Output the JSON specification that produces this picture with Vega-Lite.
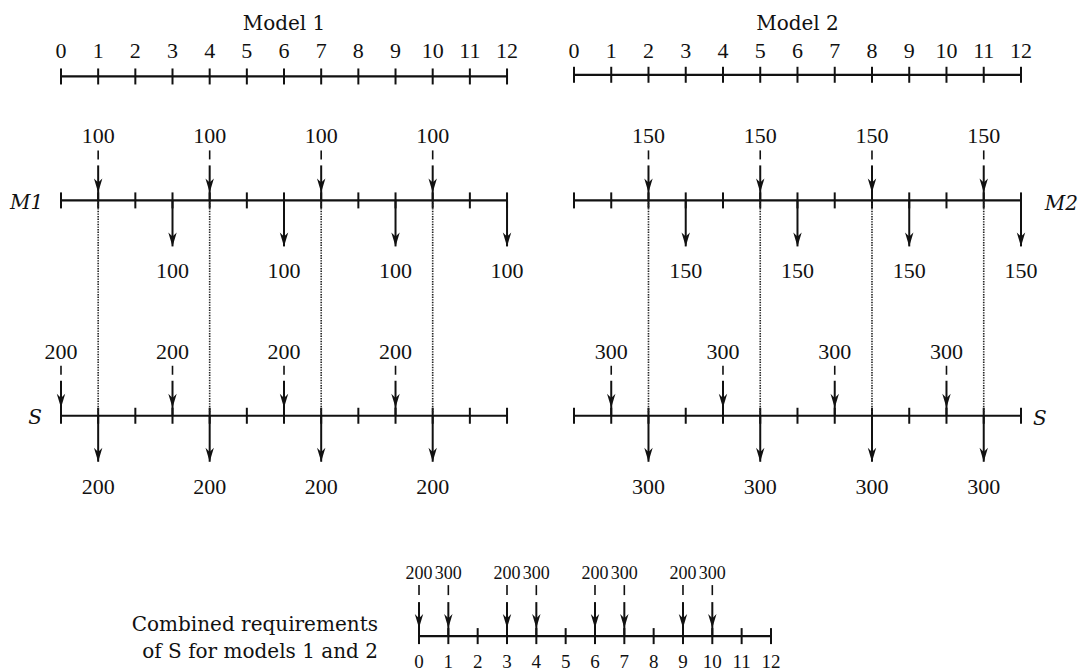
{
  "$schema": "https://vega.github.io/schema/vega-lite/v6.json",
  "width": 1089,
  "height": 672,
  "autosize": {"type": "fit", "contains": "padding"},
  "padding": 0,
  "background": "white",
  "config": {"view": {"stroke": null}},
  "datasets": {
    "lines": [
      {"line": "A1", "panel": "Model 1", "level": 7.67, "start": 0, "end": 12, "ticks": [0,1,2,3,4,5,6,7,8,9,10,11,12]},
      {"line": "M1", "panel": "Model 1", "level": 20.1, "start": 0, "end": 12, "ticks": [0,1,2,3,4,5,6,7,8,9,10,11,12]},
      {"line": "S1", "panel": "Model 1", "level": 41.7, "start": 0, "end": 12, "ticks": [0,1,2,3,4,5,6,7,8,9,10,11,12]},
      {"line": "A2", "panel": "Model 2", "level": 7.5, "start": 0, "end": 12, "ticks": [0,1,2,3,4,5,6,7,8,9,10,11,12]},
      {"line": "M2", "panel": "Model 2", "level": 20.1, "start": 0, "end": 12, "ticks": [0,1,2,3,4,5,6,7,8,9,10,11,12]},
      {"line": "S2", "panel": "Model 2", "level": 41.7, "start": 0, "end": 12, "ticks": [0,1,2,3,4,5,6,7,8,9,10,11,12]},
      {"line": "C", "panel": "Combined", "level": 63.8, "start": 0, "end": 12, "ticks": [0,1,2,3,4,5,6,7,8,9,10,11,12]}
    ],
    "arrows": [
      {"panel": "Model 1", "line": "M1", "dir": "in", "period": 1, "amount": 100},
      {"panel": "Model 1", "line": "M1", "dir": "in", "period": 4, "amount": 100},
      {"panel": "Model 1", "line": "M1", "dir": "in", "period": 7, "amount": 100},
      {"panel": "Model 1", "line": "M1", "dir": "in", "period": 10, "amount": 100},
      {"panel": "Model 1", "line": "M1", "dir": "out", "period": 3, "amount": 100},
      {"panel": "Model 1", "line": "M1", "dir": "out", "period": 6, "amount": 100},
      {"panel": "Model 1", "line": "M1", "dir": "out", "period": 9, "amount": 100},
      {"panel": "Model 1", "line": "M1", "dir": "out", "period": 12, "amount": 100},
      {"panel": "Model 1", "line": "S1", "dir": "in", "period": 0, "amount": 200},
      {"panel": "Model 1", "line": "S1", "dir": "in", "period": 3, "amount": 200},
      {"panel": "Model 1", "line": "S1", "dir": "in", "period": 6, "amount": 200},
      {"panel": "Model 1", "line": "S1", "dir": "in", "period": 9, "amount": 200},
      {"panel": "Model 1", "line": "S1", "dir": "out", "period": 1, "amount": 200},
      {"panel": "Model 1", "line": "S1", "dir": "out", "period": 4, "amount": 200},
      {"panel": "Model 1", "line": "S1", "dir": "out", "period": 7, "amount": 200},
      {"panel": "Model 1", "line": "S1", "dir": "out", "period": 10, "amount": 200},
      {"panel": "Model 2", "line": "M2", "dir": "in", "period": 2, "amount": 150},
      {"panel": "Model 2", "line": "M2", "dir": "in", "period": 5, "amount": 150},
      {"panel": "Model 2", "line": "M2", "dir": "in", "period": 8, "amount": 150},
      {"panel": "Model 2", "line": "M2", "dir": "in", "period": 11, "amount": 150},
      {"panel": "Model 2", "line": "M2", "dir": "out", "period": 3, "amount": 150},
      {"panel": "Model 2", "line": "M2", "dir": "out", "period": 6, "amount": 150},
      {"panel": "Model 2", "line": "M2", "dir": "out", "period": 9, "amount": 150},
      {"panel": "Model 2", "line": "M2", "dir": "out", "period": 12, "amount": 150},
      {"panel": "Model 2", "line": "S2", "dir": "in", "period": 1, "amount": 300},
      {"panel": "Model 2", "line": "S2", "dir": "in", "period": 4, "amount": 300},
      {"panel": "Model 2", "line": "S2", "dir": "in", "period": 7, "amount": 300},
      {"panel": "Model 2", "line": "S2", "dir": "in", "period": 10, "amount": 300},
      {"panel": "Model 2", "line": "S2", "dir": "out", "period": 2, "amount": 300},
      {"panel": "Model 2", "line": "S2", "dir": "out", "period": 5, "amount": 300},
      {"panel": "Model 2", "line": "S2", "dir": "out", "period": 8, "amount": 300},
      {"panel": "Model 2", "line": "S2", "dir": "out", "period": 11, "amount": 300},
      {"panel": "Combined", "line": "C", "dir": "in", "period": 0, "amount": 200},
      {"panel": "Combined", "line": "C", "dir": "in", "period": 1, "amount": 300},
      {"panel": "Combined", "line": "C", "dir": "in", "period": 3, "amount": 200},
      {"panel": "Combined", "line": "C", "dir": "in", "period": 4, "amount": 300},
      {"panel": "Combined", "line": "C", "dir": "in", "period": 6, "amount": 200},
      {"panel": "Combined", "line": "C", "dir": "in", "period": 7, "amount": 300},
      {"panel": "Combined", "line": "C", "dir": "in", "period": 9, "amount": 200},
      {"panel": "Combined", "line": "C", "dir": "in", "period": 10, "amount": 300}
    ],
    "links": [
      {"panel": "Model 1", "period": 1, "top": "M1", "bottom": "S1"},
      {"panel": "Model 1", "period": 4, "top": "M1", "bottom": "S1"},
      {"panel": "Model 1", "period": 7, "top": "M1", "bottom": "S1"},
      {"panel": "Model 1", "period": 10, "top": "M1", "bottom": "S1"},
      {"panel": "Model 2", "period": 2, "top": "M2", "bottom": "S2"},
      {"panel": "Model 2", "period": 5, "top": "M2", "bottom": "S2"},
      {"panel": "Model 2", "period": 8, "top": "M2", "bottom": "S2"},
      {"panel": "Model 2", "period": 11, "top": "M2", "bottom": "S2"}
    ],
    "labels": [
      {"panel": "Model 1", "kind": "title", "text": "Model 1", "period": 6, "level": 3.0},
      {"panel": "Model 2", "kind": "title", "text": "Model 2", "period": 6, "level": 3.0},
      {"panel": "Model 1", "kind": "left", "text": "M1", "period": -0.48, "level": 21.0},
      {"panel": "Model 1", "kind": "left", "text": "S", "period": -0.51, "level": 42.5},
      {"panel": "Model 2", "kind": "right", "text": "M2", "period": 12.64, "level": 21.1},
      {"panel": "Model 2", "kind": "right", "text": "S", "period": 12.32, "level": 42.6},
      {"panel": "Combined", "kind": "caption", "text": "Combined requirements", "period": -1.4, "level": 63.3},
      {"panel": "Combined", "kind": "caption", "text": "of S for models 1 and 2", "period": -1.4, "level": 66.0}
    ]
  },
  "resolve": {"scale": {"x": "independent"}},
  "layer": [
    {
      "layer": [
        {"data": {"name": "lines"}, "transform": [{"filter": "datum.panel === 'Model 1'"}],
         "mark": {"type": "rule", "strokeWidth": 2.2, "color": "#111"},
         "encoding": {"x": {"field": "start", "type": "quantitative", "scale": {"domain": [-1.641, 27.657], "nice": false, "zero": false}, "axis": null},
                      "x2": {"field": "end"},
                      "y": {"field": "level", "type": "quantitative", "scale": {"domain": [0, 67.2], "reverse": true, "nice": false, "zero": false}, "axis": null}}},
        {"data": {"name": "lines"}, "transform": [{"filter": "datum.panel === 'Model 1'"}, {"flatten": ["ticks"], "as": ["period"]}],
         "mark": {"type": "point", "shape": "M0,-1L0,1", "size": 256, "filled": false, "strokeWidth": 2, "color": "#111", "opacity": 1},
         "encoding": {"x": {"field": "period", "type": "quantitative", "scale": {"domain": [-1.641, 27.657], "nice": false, "zero": false}, "axis": null},
                      "y": {"field": "level", "type": "quantitative", "axis": null}}},
        {"data": {"name": "lines"}, "transform": [{"filter": "datum.line === 'A1'"}, {"flatten": ["ticks"], "as": ["period"]}],
         "mark": {"type": "text", "font": "Liberation Serif", "fontSize": 22, "color": "#111", "dy": -18, "baseline": "alphabetic", "align": "center"},
         "encoding": {"x": {"field": "period", "type": "quantitative", "axis": null},
                      "y": {"field": "level", "type": "quantitative", "axis": null},
                      "text": {"field": "period"}}},
        {"data": {"name": "links"}, "transform": [{"filter": "datum.panel === 'Model 1'"},
            {"lookup": "top", "from": {"data": {"name": "lines"}, "key": "line", "fields": ["level"]}, "as": ["topLevel"]},
            {"lookup": "bottom", "from": {"data": {"name": "lines"}, "key": "line", "fields": ["level"]}, "as": ["bottomLevel"]}],
         "mark": {"type": "rule", "strokeWidth": 1.6, "strokeDash": [1.4, 1.2], "color": "#222", "y2Offset": -2},
         "encoding": {"x": {"field": "period", "type": "quantitative", "axis": null},
                      "y": {"field": "topLevel", "type": "quantitative", "axis": null},
                      "y2": {"field": "bottomLevel"}}},
        {"data": {"name": "arrows"}, "transform": [{"filter": "datum.panel === 'Model 1' && datum.dir === 'in'"},
            {"lookup": "line", "from": {"data": {"name": "lines"}, "key": "line", "fields": ["level"]}}],
         "layer": [
           {"mark": {"type": "rule", "strokeWidth": 1.6, "color": "#111", "yOffset": -50, "y2Offset": -41},
            "encoding": {"x": {"field": "period", "type": "quantitative", "axis": null}, "y": {"field": "level", "type": "quantitative", "axis": null}, "y2": {"field": "level"}}},
           {"mark": {"type": "rule", "strokeWidth": 2, "color": "#111", "yOffset": -35, "y2Offset": 0},
            "encoding": {"x": {"field": "period", "type": "quantitative", "axis": null}, "y": {"field": "level", "type": "quantitative", "axis": null}, "y2": {"field": "level"}}},
           {"mark": {"type": "point", "shape": "M0,0L-0.6,-2L0,-1.4L0.6,-2Z", "size": 196, "filled": true, "color": "#111", "opacity": 1, "yOffset": -8},
            "encoding": {"x": {"field": "period", "type": "quantitative", "axis": null}, "y": {"field": "level", "type": "quantitative", "axis": null}}},
           {"mark": {"type": "text", "font": "Liberation Serif", "fontSize": 22, "color": "#111", "dy": -57, "baseline": "alphabetic", "align": "center"},
            "encoding": {"x": {"field": "period", "type": "quantitative", "axis": null}, "y": {"field": "level", "type": "quantitative", "axis": null}, "text": {"field": "amount"}}}
         ]},
        {"data": {"name": "arrows"}, "transform": [{"filter": "datum.panel === 'Model 1' && datum.dir === 'out'"},
            {"lookup": "line", "from": {"data": {"name": "lines"}, "key": "line", "fields": ["level"]}}],
         "layer": [
           {"mark": {"type": "rule", "strokeWidth": 2, "color": "#111", "yOffset": 0, "y2Offset": 46},
            "encoding": {"x": {"field": "period", "type": "quantitative", "axis": null}, "y": {"field": "level", "type": "quantitative", "axis": null}, "y2": {"field": "level"}}},
           {"mark": {"type": "point", "shape": "M0,0L-0.6,-2L0,-1.4L0.6,-2Z", "size": 196, "filled": true, "color": "#111", "opacity": 1, "yOffset": 46},
            "encoding": {"x": {"field": "period", "type": "quantitative", "axis": null}, "y": {"field": "level", "type": "quantitative", "axis": null}}},
           {"mark": {"type": "text", "font": "Liberation Serif", "fontSize": 22, "color": "#111", "dy": 78, "baseline": "alphabetic", "align": "center"},
            "encoding": {"x": {"field": "period", "type": "quantitative", "axis": null}, "y": {"field": "level", "type": "quantitative", "axis": null}, "text": {"field": "amount"}}}
         ]},
        {"data": {"name": "labels"}, "transform": [{"filter": "datum.panel === 'Model 1' && datum.kind === 'title'"}],
         "mark": {"type": "text", "font": "DejaVu Serif", "fontSize": 20, "color": "#111", "baseline": "alphabetic", "align": "center"},
         "encoding": {"x": {"field": "period", "type": "quantitative", "axis": null}, "y": {"field": "level", "type": "quantitative", "axis": null}, "text": {"field": "text"}}},
        {"data": {"name": "labels"}, "transform": [{"filter": "datum.panel === 'Model 1' && datum.kind === 'left'"}],
         "mark": {"type": "text", "font": "DejaVu Serif", "fontSize": 20, "color": "#111", "fontStyle": "italic", "baseline": "alphabetic", "align": "right"},
         "encoding": {"x": {"field": "period", "type": "quantitative", "axis": null}, "y": {"field": "level", "type": "quantitative", "axis": null}, "text": {"field": "text"}}}
      ]
    },
    {
      "layer": [
        {"data": {"name": "lines"}, "transform": [{"filter": "datum.panel === 'Model 2'"}],
         "mark": {"type": "rule", "strokeWidth": 2.2, "color": "#111"},
         "encoding": {"x": {"field": "start", "type": "quantitative", "scale": {"domain": [-15.409, 13.826], "nice": false, "zero": false}, "axis": null},
                      "x2": {"field": "end"},
                      "y": {"field": "level", "type": "quantitative", "scale": {"domain": [0, 67.2], "reverse": true, "nice": false, "zero": false}, "axis": null}}},
        {"data": {"name": "lines"}, "transform": [{"filter": "datum.panel === 'Model 2'"}, {"flatten": ["ticks"], "as": ["period"]}],
         "mark": {"type": "point", "shape": "M0,-1L0,1", "size": 256, "filled": false, "strokeWidth": 2, "color": "#111", "opacity": 1},
         "encoding": {"x": {"field": "period", "type": "quantitative", "scale": {"domain": [-15.409, 13.826], "nice": false, "zero": false}, "axis": null},
                      "y": {"field": "level", "type": "quantitative", "axis": null}}},
        {"data": {"name": "lines"}, "transform": [{"filter": "datum.line === 'A2'"}, {"flatten": ["ticks"], "as": ["period"]}],
         "mark": {"type": "text", "font": "Liberation Serif", "fontSize": 22, "color": "#111", "dy": -17, "baseline": "alphabetic", "align": "center"},
         "encoding": {"x": {"field": "period", "type": "quantitative", "axis": null},
                      "y": {"field": "level", "type": "quantitative", "axis": null},
                      "text": {"field": "period"}}},
        {"data": {"name": "links"}, "transform": [{"filter": "datum.panel === 'Model 2'"},
            {"lookup": "top", "from": {"data": {"name": "lines"}, "key": "line", "fields": ["level"]}, "as": ["topLevel"]},
            {"lookup": "bottom", "from": {"data": {"name": "lines"}, "key": "line", "fields": ["level"]}, "as": ["bottomLevel"]}],
         "mark": {"type": "rule", "strokeWidth": 1.6, "strokeDash": [1.4, 1.2], "color": "#222", "y2Offset": -2},
         "encoding": {"x": {"field": "period", "type": "quantitative", "axis": null},
                      "y": {"field": "topLevel", "type": "quantitative", "axis": null},
                      "y2": {"field": "bottomLevel"}}},
        {"data": {"name": "arrows"}, "transform": [{"filter": "datum.panel === 'Model 2' && datum.dir === 'in'"},
            {"lookup": "line", "from": {"data": {"name": "lines"}, "key": "line", "fields": ["level"]}}],
         "layer": [
           {"mark": {"type": "rule", "strokeWidth": 1.6, "color": "#111", "yOffset": -50, "y2Offset": -41},
            "encoding": {"x": {"field": "period", "type": "quantitative", "axis": null}, "y": {"field": "level", "type": "quantitative", "axis": null}, "y2": {"field": "level"}}},
           {"mark": {"type": "rule", "strokeWidth": 2, "color": "#111", "yOffset": -35, "y2Offset": 0},
            "encoding": {"x": {"field": "period", "type": "quantitative", "axis": null}, "y": {"field": "level", "type": "quantitative", "axis": null}, "y2": {"field": "level"}}},
           {"mark": {"type": "point", "shape": "M0,0L-0.6,-2L0,-1.4L0.6,-2Z", "size": 196, "filled": true, "color": "#111", "opacity": 1, "yOffset": -8},
            "encoding": {"x": {"field": "period", "type": "quantitative", "axis": null}, "y": {"field": "level", "type": "quantitative", "axis": null}}},
           {"mark": {"type": "text", "font": "Liberation Serif", "fontSize": 22, "color": "#111", "dy": -57, "baseline": "alphabetic", "align": "center"},
            "encoding": {"x": {"field": "period", "type": "quantitative", "axis": null}, "y": {"field": "level", "type": "quantitative", "axis": null}, "text": {"field": "amount"}}}
         ]},
        {"data": {"name": "arrows"}, "transform": [{"filter": "datum.panel === 'Model 2' && datum.dir === 'out'"},
            {"lookup": "line", "from": {"data": {"name": "lines"}, "key": "line", "fields": ["level"]}}],
         "layer": [
           {"mark": {"type": "rule", "strokeWidth": 2, "color": "#111", "yOffset": 0, "y2Offset": 46},
            "encoding": {"x": {"field": "period", "type": "quantitative", "axis": null}, "y": {"field": "level", "type": "quantitative", "axis": null}, "y2": {"field": "level"}}},
           {"mark": {"type": "point", "shape": "M0,0L-0.6,-2L0,-1.4L0.6,-2Z", "size": 196, "filled": true, "color": "#111", "opacity": 1, "yOffset": 46},
            "encoding": {"x": {"field": "period", "type": "quantitative", "axis": null}, "y": {"field": "level", "type": "quantitative", "axis": null}}},
           {"mark": {"type": "text", "font": "Liberation Serif", "fontSize": 22, "color": "#111", "dy": 78, "baseline": "alphabetic", "align": "center"},
            "encoding": {"x": {"field": "period", "type": "quantitative", "axis": null}, "y": {"field": "level", "type": "quantitative", "axis": null}, "text": {"field": "amount"}}}
         ]},
        {"data": {"name": "labels"}, "transform": [{"filter": "datum.panel === 'Model 2' && datum.kind === 'title'"}],
         "mark": {"type": "text", "font": "DejaVu Serif", "fontSize": 20, "color": "#111", "baseline": "alphabetic", "align": "center"},
         "encoding": {"x": {"field": "period", "type": "quantitative", "axis": null}, "y": {"field": "level", "type": "quantitative", "axis": null}, "text": {"field": "text"}}},
        {"data": {"name": "labels"}, "transform": [{"filter": "datum.panel === 'Model 2' && datum.kind === 'right'"}],
         "mark": {"type": "text", "font": "DejaVu Serif", "fontSize": 20, "color": "#111", "fontStyle": "italic", "baseline": "alphabetic", "align": "left"},
         "encoding": {"x": {"field": "period", "type": "quantitative", "axis": null}, "y": {"field": "level", "type": "quantitative", "axis": null}, "text": {"field": "text"}}}
      ]
    },
    {
      "layer": [
        {"data": {"name": "lines"}, "transform": [{"filter": "datum.panel === 'Combined'"}],
         "mark": {"type": "rule", "strokeWidth": 2.2, "color": "#111"},
         "encoding": {"x": {"field": "start", "type": "quantitative", "scale": {"domain": [-14.286, 22.843], "nice": false, "zero": false}, "axis": null},
                      "x2": {"field": "end"},
                      "y": {"field": "level", "type": "quantitative", "scale": {"domain": [0, 67.2], "reverse": true, "nice": false, "zero": false}, "axis": null}}},
        {"data": {"name": "lines"}, "transform": [{"filter": "datum.panel === 'Combined'"}, {"flatten": ["ticks"], "as": ["period"]}],
         "mark": {"type": "point", "shape": "M0,-1L0,1", "size": 256, "filled": false, "strokeWidth": 2, "color": "#111", "opacity": 1},
         "encoding": {"x": {"field": "period", "type": "quantitative", "scale": {"domain": [-14.286, 22.843], "nice": false, "zero": false}, "axis": null},
                      "y": {"field": "level", "type": "quantitative", "axis": null}}},
        {"data": {"name": "lines"}, "transform": [{"filter": "datum.line === 'C'"}, {"flatten": ["ticks"], "as": ["period"]}],
         "mark": {"type": "text", "font": "Liberation Serif", "fontSize": 19, "color": "#111", "dy": 32, "baseline": "alphabetic", "align": "center"},
         "encoding": {"x": {"field": "period", "type": "quantitative", "axis": null},
                      "y": {"field": "level", "type": "quantitative", "axis": null},
                      "text": {"field": "period"}}},
        {"data": {"name": "arrows"}, "transform": [{"filter": "datum.panel === 'Combined' && datum.dir === 'in'"},
            {"lookup": "line", "from": {"data": {"name": "lines"}, "key": "line", "fields": ["level"]}}],
         "layer": [
           {"mark": {"type": "rule", "strokeWidth": 1.6, "color": "#111", "yOffset": -51, "y2Offset": -41},
            "encoding": {"x": {"field": "period", "type": "quantitative", "axis": null}, "y": {"field": "level", "type": "quantitative", "axis": null}, "y2": {"field": "level"}}},
           {"mark": {"type": "rule", "strokeWidth": 2, "color": "#111", "yOffset": -34, "y2Offset": 0},
            "encoding": {"x": {"field": "period", "type": "quantitative", "axis": null}, "y": {"field": "level", "type": "quantitative", "axis": null}, "y2": {"field": "level"}}},
           {"mark": {"type": "point", "shape": "M0,0L-0.6,-2L0,-1.4L0.6,-2Z", "size": 196, "filled": true, "color": "#111", "opacity": 1, "yOffset": -8},
            "encoding": {"x": {"field": "period", "type": "quantitative", "axis": null}, "y": {"field": "level", "type": "quantitative", "axis": null}}},
           {"mark": {"type": "text", "font": "Liberation Serif", "fontSize": 18, "color": "#111", "dy": -57, "baseline": "alphabetic", "align": "center"},
            "encoding": {"x": {"field": "period", "type": "quantitative", "axis": null}, "y": {"field": "level", "type": "quantitative", "axis": null}, "text": {"field": "amount"}}}
         ]},
        {"data": {"name": "labels"}, "transform": [{"filter": "datum.panel === 'Combined' && datum.kind === 'caption'"}],
         "mark": {"type": "text", "font": "DejaVu Serif", "fontSize": 20, "color": "#111", "baseline": "alphabetic", "align": "right"},
         "encoding": {"x": {"field": "period", "type": "quantitative", "axis": null}, "y": {"field": "level", "type": "quantitative", "axis": null}, "text": {"field": "text"}}}
      ]
    }
  ]
}
